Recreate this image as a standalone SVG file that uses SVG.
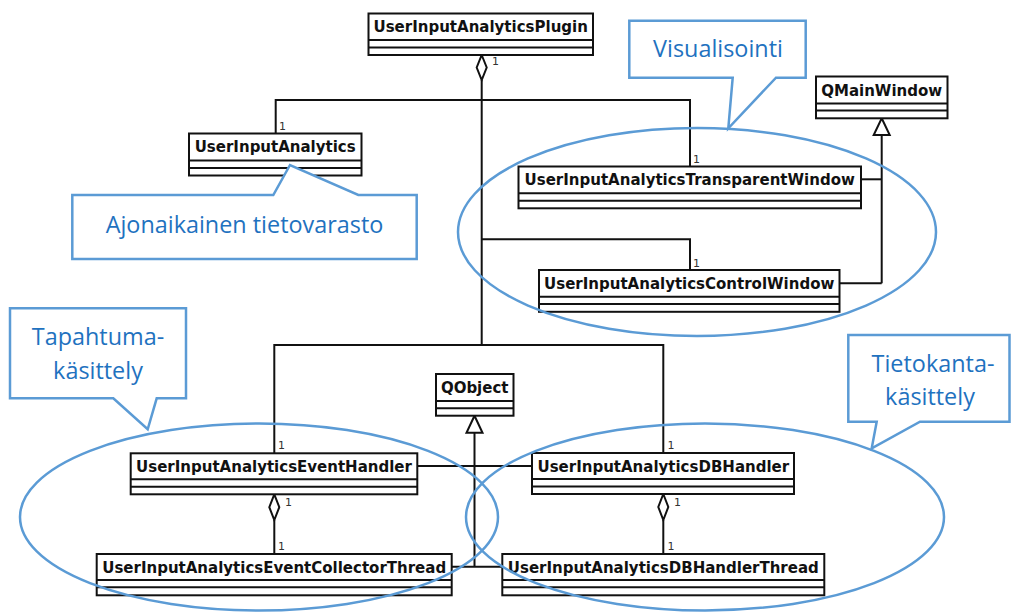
<svg xmlns="http://www.w3.org/2000/svg" width="1012" height="613" viewBox="0 0 1012 613">
  <style>
    .cls rect { fill: #ffffff; stroke: #111111; stroke-width: 2; }
    .cls line { stroke: #111111; stroke-width: 2; }
    .cls text { font-family: "DejaVu Sans", sans-serif; font-weight: bold; font-size: 15px; fill: #111111; text-anchor: middle; }
    .edge { fill: none; stroke: #111111; stroke-width: 2; }
    .agg { fill: #ffffff; stroke: #111111; stroke-width: 2; stroke-linejoin: miter; }
    .gen { fill: #ffffff; stroke: #111111; stroke-width: 2; }
    .mult { font-family: "DejaVu Sans", sans-serif; font-size: 11px; fill: #333333; }
    .group { fill: none; stroke: #5b9bd5; stroke-width: 2.5; }
    .callout { fill: #ffffff; stroke: #5b9bd5; stroke-width: 2.5; stroke-linejoin: miter; }
    .note { font-family: "Open Sans", "Noto Sans", sans-serif; font-size: 23.4px; fill: #1f72bf; text-anchor: middle; }
  </style>

  <!-- associations, aggregations and generalizations -->
  <g id="connectors">
    <!-- plugin owns the analytics parts -->
    <path class="edge" d="M481.7,80 V345"/>
    <path class="edge" d="M275.7,133.5 V100 H690 V166.5"/>
    <path class="edge" d="M481.7,239.3 H690 V270"/>
    <path class="edge" d="M274.3,453.3 V345 H663.3 V453"/>
    <path class="agg" d="M481.7,55 L486.7,67.5 L481.7,80 L476.7,67.5 Z"/>

    <!-- handlers own their threads -->
    <path class="edge" d="M274.3,520 V554"/>
    <path class="agg" d="M274.3,494.3 L279.3,507.2 L274.3,520 L269.3,507.2 Z"/>
    <path class="edge" d="M663.3,520 V554"/>
    <path class="agg" d="M663.3,494 L668.3,507 L663.3,520 L658.3,507 Z"/>

    <!-- windows derive from QMainWindow -->
    <path class="edge" d="M881.7,135 V283.3"/>
    <path class="edge" d="M861,179.3 H881.7"/>
    <path class="edge" d="M839.5,283.3 H881.7"/>
    <path class="gen" d="M881.7,118.3 L889.7,135 L873.7,135 Z"/>

    <!-- handlers and threads derive from QObject -->
    <path class="edge" d="M474.5,432.7 V566.7"/>
    <path class="edge" d="M417.3,466 H532"/>
    <path class="edge" d="M451.7,566.7 H502.3"/>
    <path class="gen" d="M474.5,415.7 L482.5,432.7 L466.5,432.7 Z"/>

    <!-- multiplicities -->
    <text class="mult" x="492" y="65">1</text>
    <text class="mult" x="279" y="130">1</text>
    <text class="mult" x="693" y="163">1</text>
    <text class="mult" x="693" y="266.5">1</text>
    <text class="mult" x="278" y="449">1</text>
    <text class="mult" x="285" y="506">1</text>
    <text class="mult" x="278" y="549.5">1</text>
    <text class="mult" x="667.5" y="449">1</text>
    <text class="mult" x="674" y="506">1</text>
    <text class="mult" x="667.5" y="549.5">1</text>
  </g>

  <!-- classes -->
  <g id="UserInputAnalyticsPlugin" class="cls">
    <rect x="368.5" y="13.5" width="224.5" height="41.5"/>
    <line x1="368.5" y1="40" x2="593" y2="40"/>
    <line x1="368.5" y1="47.5" x2="593" y2="47.5"/>
    <text x="480.7" y="32.3">UserInputAnalyticsPlugin</text>
  </g>

  <g id="UserInputAnalytics" class="cls">
    <rect x="189" y="133.5" width="172.5" height="42"/>
    <line x1="189" y1="160.5" x2="361.5" y2="160.5"/>
    <line x1="189" y1="168" x2="361.5" y2="168"/>
    <text x="275.2" y="152">UserInputAnalytics</text>
  </g>

  <g id="QMainWindow" class="cls">
    <rect x="816" y="76.5" width="131.5" height="41.8"/>
    <line x1="816" y1="103.5" x2="947.5" y2="103.5"/>
    <line x1="816" y1="110.5" x2="947.5" y2="110.5"/>
    <text x="881.7" y="95.5">QMainWindow</text>
  </g>

  <g id="UserInputAnalyticsTransparentWindow" class="cls">
    <rect x="518.5" y="166.5" width="342.5" height="41.8"/>
    <line x1="518.5" y1="193.3" x2="861" y2="193.3"/>
    <line x1="518.5" y1="200.7" x2="861" y2="200.7"/>
    <text x="689.7" y="185.3">UserInputAnalyticsTransparentWindow</text>
  </g>

  <g id="UserInputAnalyticsControlWindow" class="cls">
    <rect x="539" y="270" width="300.5" height="41.8"/>
    <line x1="539" y1="296.7" x2="839.5" y2="296.7"/>
    <line x1="539" y1="304" x2="839.5" y2="304"/>
    <text x="689.2" y="288.8">UserInputAnalyticsControlWindow</text>
  </g>

  <g id="QObject" class="cls">
    <rect x="436" y="374" width="77.5" height="41.7"/>
    <line x1="436" y1="401" x2="513.5" y2="401"/>
    <line x1="436" y1="408.3" x2="513.5" y2="408.3"/>
    <text x="474.7" y="392.8">QObject</text>
  </g>

  <g id="UserInputAnalyticsEventHandler" class="cls">
    <rect x="130.7" y="453.3" width="286.6" height="41"/>
    <line x1="130.7" y1="479.3" x2="417.3" y2="479.3"/>
    <line x1="130.7" y1="486.7" x2="417.3" y2="486.7"/>
    <text x="274" y="472">UserInputAnalyticsEventHandler</text>
  </g>

  <g id="UserInputAnalyticsDBHandler" class="cls">
    <rect x="532" y="453" width="262" height="41"/>
    <line x1="532" y1="479" x2="794" y2="479"/>
    <line x1="532" y1="486.5" x2="794" y2="486.5"/>
    <text x="663.3" y="471.8">UserInputAnalyticsDBHandler</text>
  </g>

  <g id="UserInputAnalyticsEventCollectorThread" class="cls">
    <rect x="96.7" y="554" width="355" height="41.3"/>
    <line x1="96.7" y1="580" x2="451.7" y2="580"/>
    <line x1="96.7" y1="587.3" x2="451.7" y2="587.3"/>
    <text x="274.2" y="572.8">UserInputAnalyticsEventCollectorThread</text>
  </g>

  <g id="UserInputAnalyticsDBHandlerThread" class="cls">
    <rect x="502.3" y="554" width="322" height="41.3"/>
    <line x1="502.3" y1="580" x2="824.3" y2="580"/>
    <line x1="502.3" y1="587.3" x2="824.3" y2="587.3"/>
    <text x="663.3" y="572.8">UserInputAnalyticsDBHandlerThread</text>
  </g>

  <!-- subsystem groupings -->
  <g id="groupings">
    <ellipse class="group" cx="697" cy="232" rx="239" ry="104"/>
    <ellipse class="group" cx="259" cy="517" rx="239" ry="93.5"/>
    <ellipse class="group" cx="705" cy="517" rx="239" ry="93.5"/>
  </g>

  <!-- callouts naming the groupings -->
  <g id="callout-visualisointi">
    <path class="callout" d="M629.3,20.7 H805.7 V77.7 H776 L728.3,128.3 L732.7,77.7 H629.3 Z"/>
    <text class="note" x="718" y="56.5">Visualisointi</text>
  </g>

  <g id="callout-ajonaikainen">
    <path class="callout" d="M72.3,195 H273.3 L290,165 L358.3,195 H416.7 V259 H72.3 Z"/>
    <text class="note" x="244.5" y="232.7">Ajonaikainen tietovarasto</text>
  </g>

  <g id="callout-tapahtuma">
    <path class="callout" d="M10,308.3 H186 V398.3 H156.7 L147.7,429.3 L113.3,398.3 H10 Z"/>
    <text class="note" x="98" y="345">Tapahtuma-</text>
    <text class="note" x="98" y="378.5">käsittely</text>
  </g>

  <g id="callout-tietokanta">
    <path class="callout" d="M848.3,335 H1009.5 V421.7 H920 L871.7,448.3 L876.7,421.7 H848.3 Z"/>
    <text class="note" x="933" y="372">Tietokanta-</text>
    <text class="note" x="930" y="405">käsittely</text>
  </g>
</svg>
